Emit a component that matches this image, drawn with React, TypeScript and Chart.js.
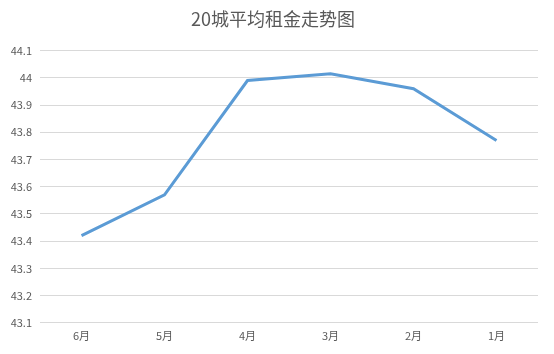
import React, { useEffect, useRef } from "react";
import { Chart, registerables } from "chart.js";

Chart.register(...registerables);

const title = "20城平均租金走势图";
const categories = ["6月", "5月", "4月", "3月", "2月", "1月"];
const rentValues = [43.42, 43.57, 43.99, 44.015, 43.96, 43.77];
const yMin = 43.1;
const yMax = 44.1;
const yStep = 0.1;

const FONT = "'Noto Sans CJK SC', 'Noto Sans', sans-serif";

export default function App() {
  const ref = useRef<HTMLCanvasElement>(null);
  useEffect(() => {
    document.body.style.margin = "0";
    const ctx = ref.current!;
    const chart = new Chart(ctx, {
      type: "line",
      data: {
        labels: categories,
        datasets: [
          {
            data: rentValues,
            borderColor: "#5B9BD5",
            borderWidth: 3,
            pointRadius: 0,
            tension: 0,
            fill: false,
          },
        ],
      },
      options: {
        animation: false,
        responsive: false,
        maintainAspectRatio: false,
        layout: { padding: { left: 8, right: 16, top: 6, bottom: 6 } },
        plugins: {
          legend: { display: false },
          tooltip: { enabled: false },
          title: {
            display: true,
            text: title,
            color: "#595959",
            font: { family: FONT, size: 18, weight: "normal" },
            padding: { top: 2, bottom: 21 },
          },
        },
        scales: {
          x: {
            offset: true,
            grid: { display: false, drawTicks: false },
            border: { display: false },
            ticks: {
              color: "#595959",
              font: { family: FONT, size: 11 },
              padding: 6,
              maxRotation: 0,
            },
          },
          y: {
            min: yMin,
            max: yMax,
            afterFit: (scale: any) => {
              scale.width = 32;
            },
            grid: { color: "#d9d9d9", drawTicks: false, lineWidth: 1 },
            border: { display: false },
            ticks: {
              stepSize: yStep,
              color: "#595959",
              font: { family: FONT, size: 11 },
              padding: 8,
              callback: (v: any) => String(Number(Number(v).toFixed(1))),
            },
          },
        },
      },
    });
    return () => chart.destroy();
  }, []);
  return (
    <div style={{ position: "absolute", left: 0, top: 0, width: 554, height: 354 }}>
      <canvas ref={ref} width={554} height={354} />
    </div>
  );
}
